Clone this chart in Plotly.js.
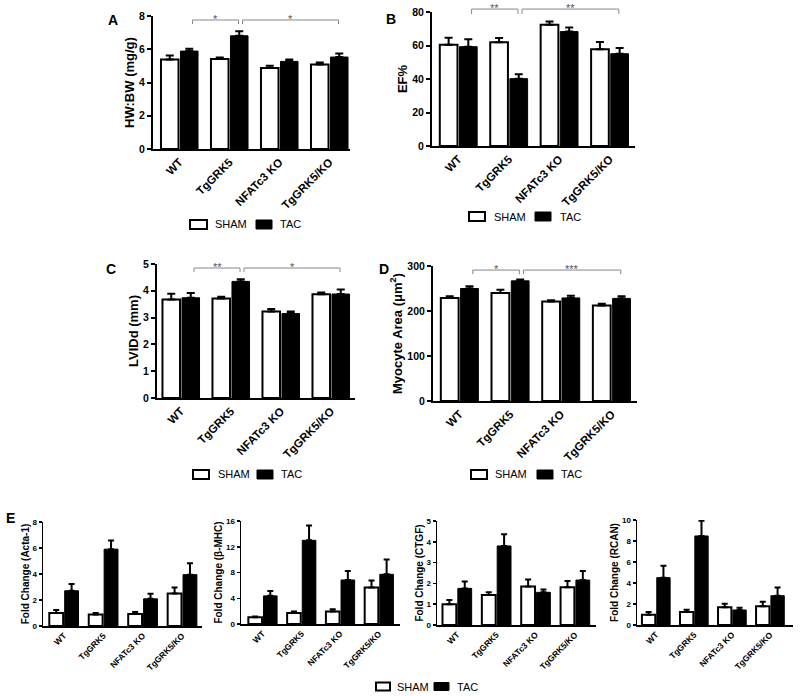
<!DOCTYPE html>
<html><head><meta charset="utf-8">
<script src="https://cdn.plot.ly/plotly-3.0.1.min.js"></script>
<style>html,body{margin:0;padding:0;background:#fff}#chart{width:800px;height:696px}</style>
</head><body><div id="chart"></div>
<script>
// ---------------- data ----------------
const categories = ['WT', 'TgGRK5', 'NFATc3 KO', 'TgGRK5/KO'];
const seriesNames = ['SHAM', 'TAC'];

// A: HW:BW (mg/g)
const hwbwSham = [5.39, 5.41, 4.87, 5.09];
const hwbwShamErr = [0.24, 0.10, 0.14, 0.12];
const hwbwTac = [5.89, 6.81, 5.27, 5.53];
const hwbwTacErr = [0.14, 0.28, 0.12, 0.22];

// B: EF%
const efSham = [60.5, 61.9, 72.4, 57.7];
const efShamErr = [4.2, 2.6, 2.0, 4.4];
const efTac = [59.3, 40.2, 68.3, 55.1];
const efTacErr = [4.4, 2.6, 2.5, 3.4];

// C: LVIDd (mm)
const lviddSham = [3.68, 3.71, 3.23, 3.87];
const lviddShamErr = [0.21, 0.07, 0.09, 0.07];
const lviddTac = [3.74, 4.35, 3.15, 3.88];
const lviddTacErr = [0.18, 0.08, 0.08, 0.17];

// D: Myocyte area (um^2)
const myoSham = [229, 240, 221, 212];
const myoShamErr = [4, 7, 3, 4];
const myoTac = [250, 267, 229, 228];
const myoTacErr = [5, 3, 5, 5];

// E: fold changes
const actaSham = [1.00, 0.88, 0.93, 2.50];
const actaShamErr = [0.24, 0.12, 0.15, 0.47];
const actaTac = [2.71, 5.91, 2.09, 3.95];
const actaTacErr = [0.52, 0.67, 0.39, 0.88];

const mhcSham = [1.03, 1.70, 1.95, 5.66];
const mhcShamErr = [0.15, 0.25, 0.35, 1.08];
const mhcTac = [4.37, 13.0, 6.84, 7.72];
const mhcTacErr = [0.77, 2.30, 1.39, 2.31];

const ctgfSham = [1.00, 1.44, 1.85, 1.81];
const ctgfShamErr = [0.20, 0.14, 0.34, 0.30];
const ctgfTac = [1.76, 3.80, 1.57, 2.16];
const ctgfTacErr = [0.33, 0.56, 0.14, 0.44];

const rcanSham = [0.98, 1.24, 1.68, 1.78];
const rcanShamErr = [0.26, 0.22, 0.35, 0.44];
const rcanTac = [4.51, 8.48, 1.43, 2.79];
const rcanTacErr = [1.14, 1.46, 0.22, 0.77];

// significance comparisons (group index from, group index to, label)
const sigA = [[0, 1, '*'], [1, 3, '*']];
const sigB = [[0, 1, '**'], [1, 3, '**']];
const sigC = [[0, 1, '**'], [1, 3, '*']];
const sigD = [[0, 1, '*'], [1, 3, '***']];

// ---------------- layout helpers ----------------
const W = 800, H = 696;
const px = x => x / W;
const py = y => 1 - y / H;
const FONT = 'Liberation Sans, Arial, sans-serif';

const panels = [
  {sham: hwbwSham, shamErr: hwbwShamErr, tac: hwbwTac, tacErr: hwbwTacErr, title: 'HW:BW (mg/g)', yMax: 8, dtick: 2,
   box: [153, 350, 16, 149], xr: [-0.53, 3.41], sig: sigA, sigY: [0.97, 0.94], big: true, letter: ['A', 113, 20]},
  {sham: efSham, shamErr: efShamErr, tac: efTac, tacErr: efTacErr, title: 'EF%', yMax: 80, dtick: 20,
   box: [432, 635, 12, 146], xr: [-0.525, 3.5], sig: sigB, sigY: [1.022, 0.985], big: true, letter: ['B', 391, 19]},
  {sham: lviddSham, shamErr: lviddShamErr, tac: lviddTac, tacErr: lviddTacErr, title: 'LVIDd (mm)', yMax: 5, dtick: 1,
   box: [157, 355, 264, 398], xr: [-0.48, 3.48], sig: sigC, sigY: [0.97, 0.94], big: true, letter: ['C', 111, 269]},
  {sham: myoSham, shamErr: myoShamErr, tac: myoTac, tacErr: myoTacErr, title: 'Myocyte Area (\u03bcm<sup>2</sup>)', yMax: 300, dtick: 100,
   box: [433, 637, 266, 401], xr: [-0.525, 3.5], sig: sigD, sigY: [0.97, 0.94], big: true, letter: ['D', 384, 269]},
  {sham: actaSham, shamErr: actaShamErr, tac: actaTac, tacErr: actaTacErr, title: 'Fold Change (Acta-1)', yMax: 8, dtick: 2,
   box: [43, 202, 522, 626], xr: [-0.53, 3.5], sig: [], big: false, letter: ['E', 10, 518]},
  {sham: mhcSham, shamErr: mhcShamErr, tac: mhcTac, tacErr: mhcTacErr, title: 'Fold Change (\u03b2-MHC)', yMax: 16, dtick: 4,
   box: [241, 400, 521, 624], xr: [-0.56, 3.54], sig: [], big: false},
  {sham: ctgfSham, shamErr: ctgfShamErr, tac: ctgfTac, tacErr: ctgfTacErr, title: 'Fold Change (CTGF)', yMax: 5, dtick: 1,
   box: [437, 596, 521, 625], xr: [-0.51, 3.53], sig: [], big: false},
  {sham: rcanSham, shamErr: rcanShamErr, tac: rcanTac, tacErr: rcanTacErr, title: 'Fold Change (RCAN)', yMax: 10, dtick: 2,
   box: [637, 793, 520, 625], xr: [-0.5, 3.6], sig: [], big: false}
];

// legends: [shamBoxX0, shamBoxX1, shamTextX, tacBoxX0, tacBoxX1, tacTextX, centerY, boxH, fontSize]
const legendSpots = [
  [190, 207, 213, 256, 272, 278, 224.5, 9, 11],
  [469, 485, 492, 535, 551, 558, 216.5, 9, 11],
  [193, 209, 216, 257, 273, 279, 474.5, 9, 11],
  [471, 487, 493, 537, 553, 559, 474.5, 9, 11],
  [376, 390, 395, 434, 449, 455, 686.5, 8, 11]
];

const traces = [];
const layout = {
  width: W, height: H,
  margin: {l: 0, r: 0, t: 0, b: 0, pad: 0},
  paper_bgcolor: '#fff', plot_bgcolor: 'rgba(0,0,0,0)',
  showlegend: false,
  barmode: 'group', bargap: 0.22, bargroupgap: 0.1,
  font: {family: FONT, color: '#000'},
  shapes: [], annotations: []
};

panels.forEach((p, i) => {
  const n = i === 0 ? '' : String(i + 1);
  const xa = 'x' + n, ya = 'y' + n;
  const lw = p.big ? 2 : 1.5;
  const zeros = p.sham.map(() => 0);
  const capW = p.big ? 4 : 3;
  traces.push({
    type: 'bar', name: seriesNames[0], x: categories, y: p.sham, xaxis: xa, yaxis: ya,
    marker: {color: '#ffffff', line: {color: '#000', width: 2}},
    error_y: {type: 'data', symmetric: false, array: p.shamErr, arrayminus: zeros, color: '#000', thickness: 2, width: capW},
    hoverinfo: 'skip'
  });
  traces.push({
    type: 'bar', name: seriesNames[1], x: categories, y: p.tac, xaxis: xa, yaxis: ya,
    marker: {color: '#000000', line: {color: '#000', width: 1}},
    error_y: {type: 'data', symmetric: false, array: p.tacErr, arrayminus: zeros, color: '#000', thickness: 2, width: capW},
    hoverinfo: 'skip'
  });
  const xd = [px(p.box[0]), px(p.box[1])];
  const yd = [py(p.box[3]), py(p.box[2])];
  layout['xaxis' + n] = {
    type: 'category', domain: xd, range: p.xr, anchor: ya,
    showline: true, linecolor: '#000', linewidth: lw, ticks: '',
    tickangle: -45, showgrid: false, zeroline: false, fixedrange: true,
    tickfont: {family: FONT, size: p.big ? 11.5 : 8.5, weight: 'bold', color: '#000'}
  };
  layout['yaxis' + n] = {
    domain: yd, range: [0, p.yMax], anchor: xa, tick0: 0, dtick: p.dtick,
    showline: true, linecolor: '#000', linewidth: lw, ticks: 'outside', ticklen: p.big ? 4 : 3,
    tickwidth: lw, tickcolor: '#000', showgrid: false, zeroline: false, fixedrange: true,
    tickfont: {family: FONT, size: p.big ? 10.5 : 8, weight: 'bold', color: '#000'},
    title: {text: p.title, standoff: p.big ? 2 : 1,
            font: {family: FONT, size: p.big ? 13 : 10, weight: 'bold', color: '#000'}}
  };
  // panel letter
  if (p.letter) {
    layout.annotations.push({
      xref: 'paper', yref: 'paper', x: px(p.letter[1]), y: py(p.letter[2]),
      xanchor: 'center', yanchor: 'middle', showarrow: false,
      text: p.letter[0], font: {family: FONT, size: 14, weight: 'bold', color: '#000'}
    });
  }
  // significance brackets
  p.sig.forEach(s => {
    const x0 = s[0] + 0.26, x1 = s[1] + 0.18;
    const yTop = yd[0] + p.sigY[0] * (yd[1] - yd[0]);
    const yEnd = yd[0] + p.sigY[1] * (yd[1] - yd[0]);
    const st = {color: '#888', width: 1};
    layout.shapes.push({type: 'line', xref: xa, yref: 'paper', x0: x0, x1: x1, y0: yTop, y1: yTop, line: st});
    layout.shapes.push({type: 'line', xref: xa, yref: 'paper', x0: x0, x1: x0, y0: yTop, y1: yEnd, line: st});
    layout.shapes.push({type: 'line', xref: xa, yref: 'paper', x0: x1, x1: x1, y0: yTop, y1: yEnd, line: st});
    layout.annotations.push({
      xref: xa, yref: 'paper', x: (x0 + x1) / 2, y: yTop + 1 / H,
      xanchor: 'center', yanchor: 'middle', showarrow: false,
      text: s[2], font: {family: FONT, size: 11, color: '#555'}
    });
  });
});

// legends (drawn)
legendSpots.forEach(L => {
  const cy = L[6], h = L[7];
  layout.shapes.push({type: 'rect', xref: 'paper', yref: 'paper', x0: px(L[0]), x1: px(L[1]), y0: py(cy + h / 2), y1: py(cy - h / 2),
    fillcolor: '#fff', line: {color: '#000', width: 2}});
  layout.shapes.push({type: 'rect', xref: 'paper', yref: 'paper', x0: px(L[3]), x1: px(L[4]), y0: py(cy + h / 2), y1: py(cy - h / 2),
    fillcolor: '#000', line: {color: '#000', width: 1}});
  layout.annotations.push({xref: 'paper', yref: 'paper', x: px(L[2]), y: py(cy), xanchor: 'left', yanchor: 'middle',
    showarrow: false, text: seriesNames[0], font: {family: FONT, size: L[8], color: '#000'}});
  layout.annotations.push({xref: 'paper', yref: 'paper', x: px(L[5]), y: py(cy), xanchor: 'left', yanchor: 'middle',
    showarrow: false, text: seriesNames[1], font: {family: FONT, size: L[8], color: '#000'}});
});

Plotly.newPlot('chart', traces, layout, {staticPlot: true, displayModeBar: false});
</script>
</body></html>
